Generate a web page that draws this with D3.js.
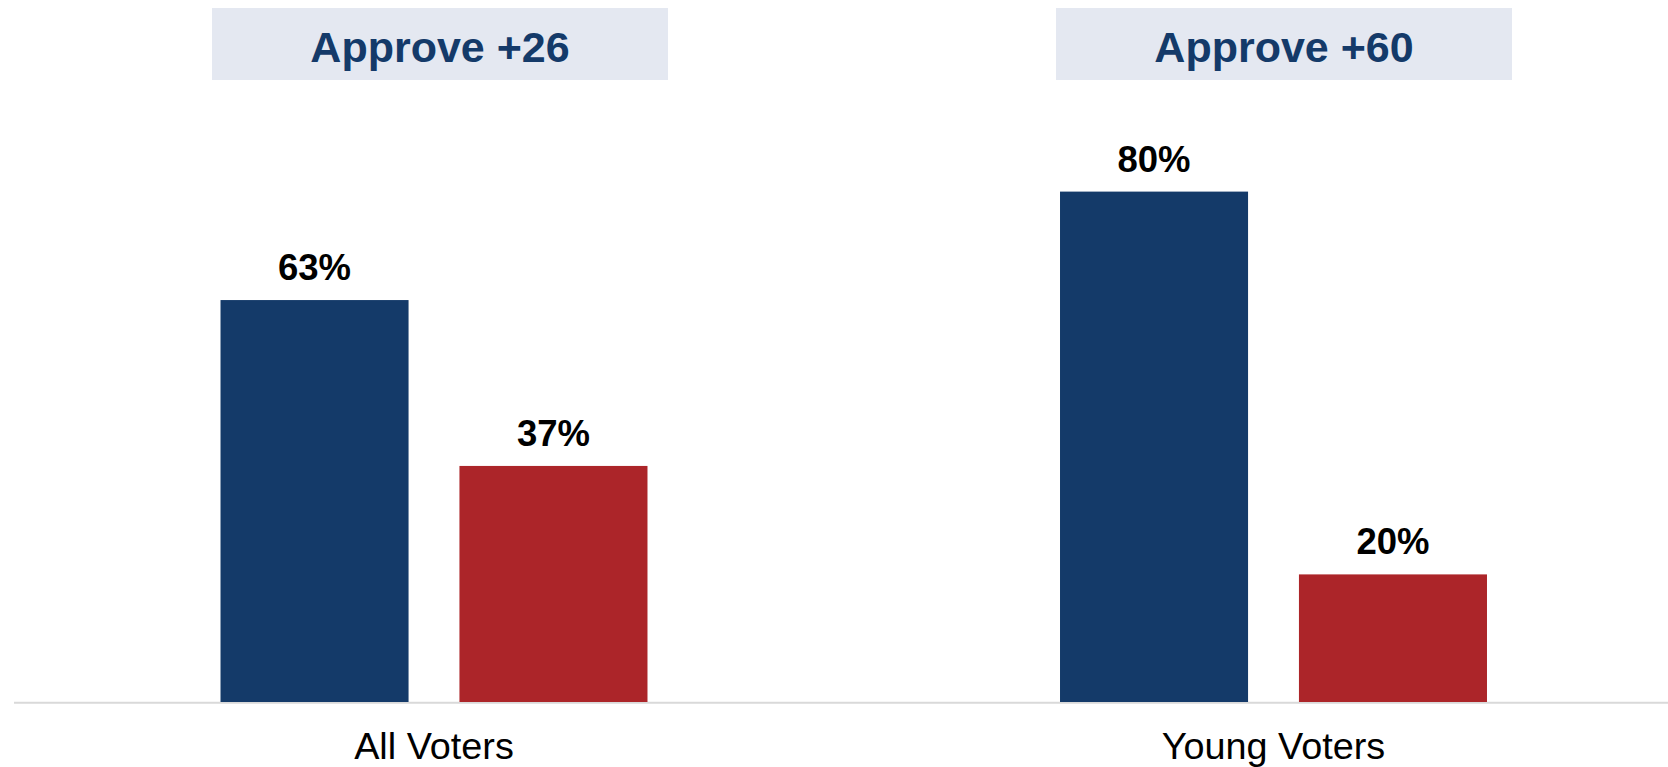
<!DOCTYPE html>
<html>
<head>
<meta charset="utf-8">
<script src="https://cdn.jsdelivr.net/npm/d3@7"></script>
<style>
  html, body { margin: 0; padding: 0; background: #ffffff; }
  svg { display: block; font-family: "Liberation Sans", Arial, sans-serif; }
</style>
</head>
<body>
<svg id="chart" width="1668" height="767"></svg>
<script>
const categories = ["All Voters", "Young Voters"];
const seriesNames = ["Approve", "Disapprove"];
const approveValues = [63, 80];
const disapproveValues = [37, 20];
const headerLabels = ["Approve +26", "Approve +60"];
const colors = ["#143a69", "#ac2529"];

const data = categories.map((c, i) => ({
  category: c,
  header: headerLabels[i],
  values: [
    { series: seriesNames[0], value: approveValues[i] },
    { series: seriesNames[1], value: disapproveValues[i] }
  ]
}));

const W = 1668, H = 767;
const svg = d3.select("#chart");

const x0 = d3.scaleBand()
  .domain(categories)
  .range([14.25, 1693.25])
  .paddingInner(0.4914)
  .paddingOuter(0.2457);

const x1 = d3.scaleBand()
  .domain(seriesNames)
  .range([0, x0.bandwidth()])
  .paddingInner(0.213)
  .paddingOuter(0);

const y = d3.scaleLinear().domain([0, 100]).range([702, 64]);
const color = d3.scaleOrdinal().domain(seriesNames).range(colors);

// Baseline axis
svg.append("line")
  .attr("x1", 14).attr("x2", W)
  .attr("y1", y(0) + 0.8).attr("y2", y(0) + 0.8)
  .attr("stroke", "#d9d9d9")
  .attr("stroke-width", 2);

const groups = svg.selectAll("g.grp")
  .data(data)
  .join("g")
  .attr("class", "grp")
  .attr("transform", d => `translate(${x0(d.category)},0)`);

groups.selectAll("rect.bar")
  .data(d => d.values)
  .join("rect")
  .attr("class", "bar")
  .attr("x", d => x1(d.series))
  .attr("y", d => y(d.value))
  .attr("width", x1.bandwidth())
  .attr("height", d => y(0) - y(d.value))
  .attr("fill", d => color(d.series));

groups.selectAll("text.val")
  .data(d => d.values)
  .join("text")
  .attr("class", "val")
  .attr("x", d => x1(d.series) + x1.bandwidth() / 2)
  .attr("y", d => y(d.value) - 20)
  .attr("text-anchor", "middle")
  .attr("font-size", 36.5)
  .attr("font-weight", "bold")
  .attr("fill", "#000")
  .text(d => d.value + "%");

// Category labels
svg.selectAll("text.cat")
  .data(categories)
  .join("text")
  .attr("class", "cat")
  .attr("x", d => x0(d) + x0.bandwidth() / 2)
  .attr("y", 759)
  .attr("text-anchor", "middle")
  .attr("font-size", 37.8)
  .attr("fill", "#000")
  .text(d => d);

// Header boxes
const boxOffsets = [6, 10.5];
const boxW = 456, boxH = 72;
const hdr = svg.selectAll("g.hdr")
  .data(data)
  .join("g")
  .attr("class", "hdr")
  .attr("transform", (d, i) => `translate(${x0(d.category) + x0.bandwidth() / 2 + boxOffsets[i]},8)`);

hdr.append("rect")
  .attr("x", -boxW / 2)
  .attr("y", 0)
  .attr("width", boxW)
  .attr("height", boxH)
  .attr("fill", "#e4e8f1");

hdr.append("text")
  .attr("x", 0)
  .attr("y", 54)
  .attr("text-anchor", "middle")
  .attr("font-size", 43)
  .attr("font-weight", "bold")
  .attr("fill", "#143a69")
  .text(d => d.header);
</script>
</body>
</html>
